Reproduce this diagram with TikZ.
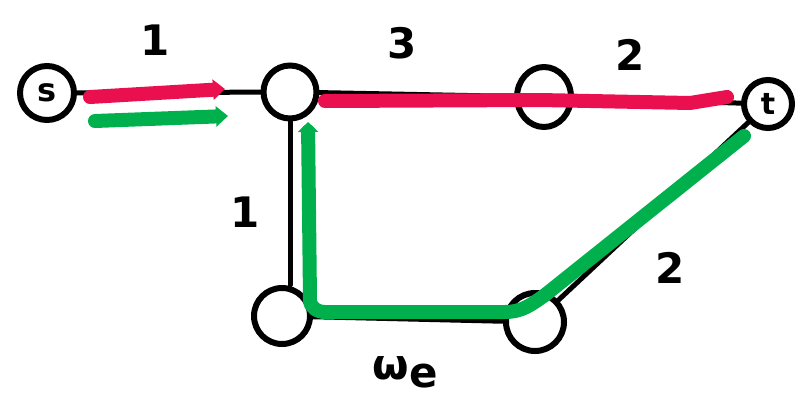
\documentclass[tikz,border=0pt]{standalone}
\usepackage{fontspec}
\setmainfont{DejaVu Sans}
\usetikzlibrary{arrows.meta,shapes.geometric}
\definecolor{rpath}{HTML}{EA0F4F}
\definecolor{gpath}{HTML}{00B04C}
\tikzset{
  vtx/.style={draw=black,line width=6pt,circle,minimum size=50pt,inner sep=0pt},
  edge/.style={draw=black,line width=5pt,line cap=round},
  rp/.style={draw=rpath,line width=14pt,line cap=round,line join=round},
  gp/.style={draw=gpath,line width=14pt,line cap=round,line join=round},
  wlab/.style={font=\bfseries\fontsize{42}{42}\selectfont},
}
\begin{document}
\begin{tikzpicture}[x=1pt,y=-1pt]
\useasboundingbox (0,0) rectangle (805,407);
% vertices
\node[vtx,minimum size=54pt] (s) at (47,93) {\fontsize{32}{32}\selectfont\bfseries s};
\node[vtx,minimum size=53pt] (a) at (290,92) {};
\node[vtx,ellipse,minimum width=54pt,minimum height=60pt] (b) at (544,97) {};
\node[vtx,minimum size=48pt] (t) at (768,104) {\fontsize{30}{30}\selectfont\bfseries t};
\node[vtx,minimum size=56pt] (c) at (282,316) {};
\node[vtx,minimum size=58pt] (d) at (535,322) {};
% black edges
\draw[edge] (s) -- (a);
\draw[edge] (a) -- (b);
\draw[edge] (b) -- (t);
\draw[edge] (a.south) -- (c.north -| a.south);
\draw[edge] (c) -- (d);
\draw[edge] (d) -- (t);
% labels
\node[wlab] (l1) at (155,40) {1};
\node[wlab] (l2) at (402,43) {3};
\node[wlab] (l3) at (630,55) {2};
\node[wlab] (l4) at (245,212) {1};
\node[wlab] (l5) at (670,268) {2};
\node[wlab] (l6) at (405,372) {ω\raisebox{-8pt}{e}};
% red path
\coordinate (r1) at (90,97);
\coordinate (r2) at (225,89);
\draw[rp,-{Triangle[length=12pt,width=20pt]}] (r1) -- (r2);
\coordinate (r3) at (325,101);
\coordinate (r4) at (727,97);
\draw[rp] (r3) -- (540,100) -- (690,103) -- (r4);
% green path
\coordinate (g1) at (95,121);
\coordinate (g2) at (228,116);
\draw[gp,-{Triangle[length=12pt,width=20pt]}] (g1) -- (g2);
\coordinate (g4) at (744,136);
\draw[gp,{Triangle[length=10pt,width=20pt]}-] (308,122) -- (310,300) to[out=-90,in=180] (325,312) -- (505,312) to[out=0,in=215] (545,295) -- (g4);
\end{tikzpicture}
\end{document}
